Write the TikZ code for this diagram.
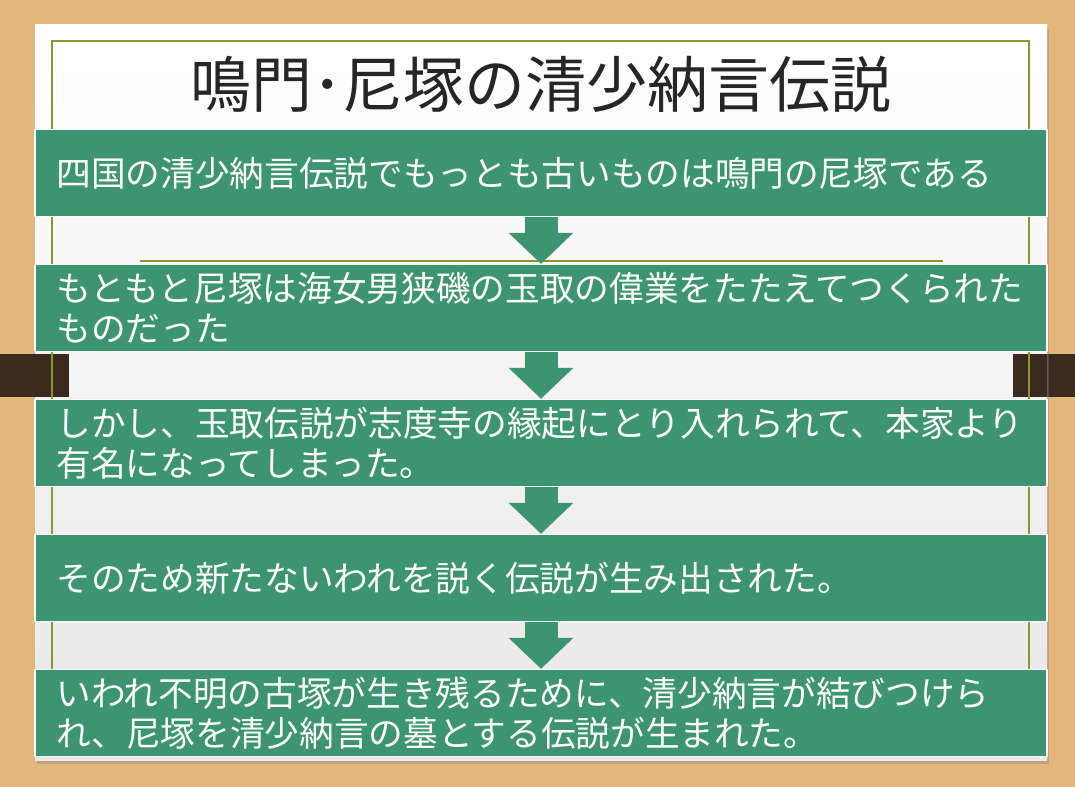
\documentclass[tikz,border=0pt]{standalone}
\usepackage{fontspec}
\newfontfamily\jp{Noto Sans CJK JP}
\usetikzlibrary{arrows.meta,positioning,shadows}
\definecolor{wood}{RGB}{226,182,124}
\definecolor{bark}{RGB}{58,42,32}
\definecolor{olive}{RGB}{138,150,46}
\definecolor{leaf}{RGB}{60,149,112}
\definecolor{ink}{RGB}{38,38,38}
\tikzset{
  card/.style    ={top color=white, bottom color=black!9,
                   drop shadow={opacity=0.35, shadow xshift=1.5pt, shadow yshift=-3pt}},
  rule/.style    ={draw=olive, line width=1.5pt},
  heading/.style ={text=ink, font=\jp\fontsize{45.7}{50}\selectfont, inner sep=0pt},
  stepbox/.style ={draw=white, line width=1pt, fill=leaf, text=white,
                   font=\jp\fontsize{26}{30}\selectfont, align=left,
                   text width=727pt, minimum width=759pt, minimum height=65.25pt,
                   inner xsep=16pt, inner ysep=0pt},
  down/.style    ={draw=leaf, line width=24.75pt,
                   -{Triangle[length=23.25pt 0 0, width=47.25pt 0 0]}},
}
\begin{document}
\begin{tikzpicture}[x=0.75pt, y=-0.75pt]
\useasboundingbox (0,0) rectangle (1075,787);

% ---- desk and sheet --------------------------------------------------
\fill[wood] (0,0) rectangle (1075,787);
\fill[bark] (0,354) rectangle (69,397);
\fill[bark] (1013,354) rectangle (1075,397);
\path[card] (35,25) rectangle (1047,760);
\fill[bark] (35,354) rectangle (69,397);
\fill[bark] (1013,354) rectangle (1047,397);
\draw[rule] (52,41) rectangle (1029,740);
\draw[rule] (140,261) -- (943,261);

% ---- title -----------------------------------------------------------
\node[heading] (title) at (541,84) {鳴門･尼塚の清少納言伝説};

% ---- steps -----------------------------------------------------------
\node[stepbox] (s1) at (541,173) {四国の清少納言伝説でもっとも古いものは鳴門の尼塚である};
\node[stepbox, below=35pt of s1] (s2)
  {もともと尼塚は海女男狭磯の玉取の偉業をたたえてつくられた\\ものだった};
\node[stepbox, below=35pt of s2] (s3)
  {しかし、玉取伝説が志度寺の縁起にとり入れられて、本家より\\有名になってしまった。};
\node[stepbox, below=35pt of s3] (s4) {そのため新たないわれを説く伝説が生み出された。};
\node[stepbox, below=35pt of s4] (s5)
  {いわれ不明の古塚が生き残るために、清少納言が結びつけら\\れ、尼塚を清少納言の墓とする伝説が生まれた。};

\draw[down] (s1) -- (s2);
\draw[down] (s2) -- (s3);
\draw[down] (s3) -- (s4);
\draw[down] (s4) -- (s5);

\end{tikzpicture}
\end{document}
